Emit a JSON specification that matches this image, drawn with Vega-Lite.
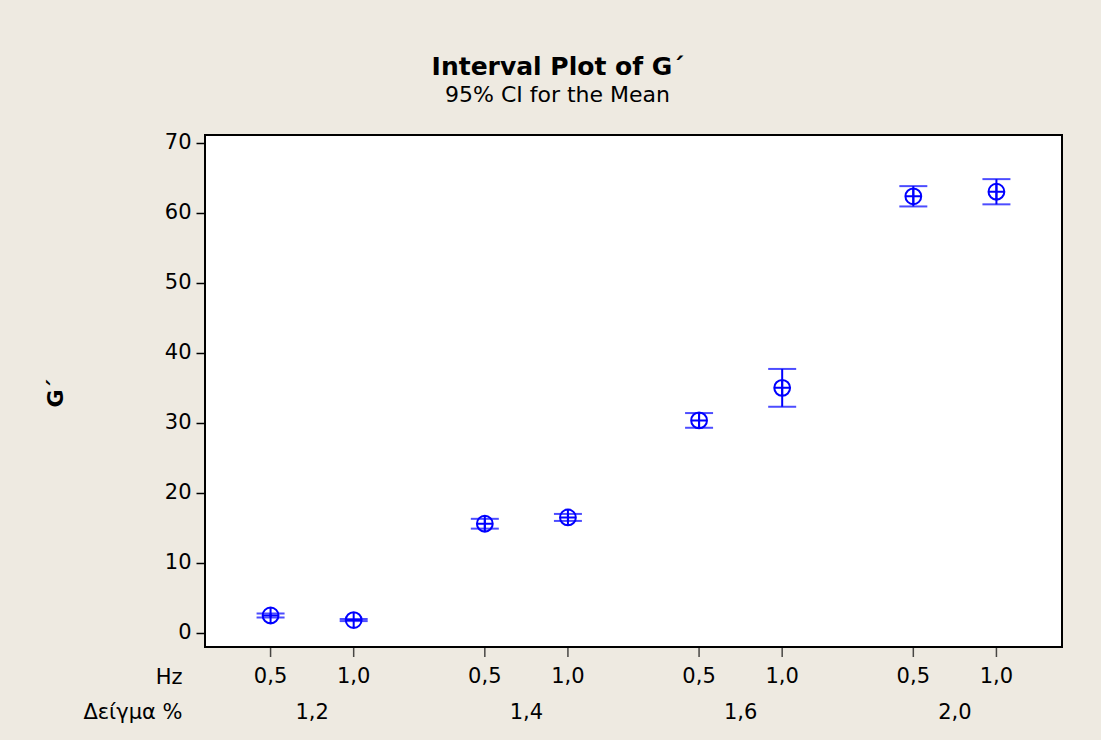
{
  "$schema": "https://vega.github.io/schema/vega-lite/v6.json",
  "autosize": {"type": "none"},
  "width": 857,
  "height": 512,
  "padding": {"left": 205, "top": 135, "right": 39, "bottom": 93},
  "background": "#EEEAE1",
  "config": {
    "view": {"fill": "white", "stroke": "black", "strokeWidth": 2},
    "font": "DejaVu Sans"
  },
  "title": {
    "text": "Interval Plot of G΄",
    "subtitle": "95% CI for the Mean",
    "fontSize": 25,
    "fontWeight": "bold",
    "subtitleFontSize": 22,
    "color": "black",
    "subtitleColor": "black",
    "anchor": "middle",
    "frame": "group",
    "dx": -76,
    "offset": 26,
    "subtitlePadding": 5,
    "font": "DejaVu Sans",
    "subtitleFont": "DejaVu Sans"
  },
  "data": {
    "values": [
      {"d": "1,2", "hz": "0,5", "mean": 2.5, "lo": 2.2, "hi": 2.8},
      {"d": "1,2", "hz": "1,0", "mean": 1.85, "lo": 1.7, "hi": 2.0},
      {"d": "1,4", "hz": "0,5", "mean": 15.6, "lo": 14.9, "hi": 16.3},
      {"d": "1,4", "hz": "1,0", "mean": 16.5, "lo": 16.0, "hi": 17.0},
      {"d": "1,6", "hz": "0,5", "mean": 30.35, "lo": 29.3, "hi": 31.4},
      {"d": "1,6", "hz": "1,0", "mean": 35.0, "lo": 32.3, "hi": 37.7},
      {"d": "2,0", "hz": "0,5", "mean": 62.35, "lo": 60.9, "hi": 63.8},
      {"d": "2,0", "hz": "1,0", "mean": 63.0, "lo": 61.2, "hi": 64.8}
    ]
  },
  "encoding": {
    "x": {
      "field": "d",
      "type": "nominal",
      "scale": {"paddingInner": 0, "paddingOuter": 0},
      "axis": {
        "title": ["Hz", "Δείγμα %"],
        "titleAlign": "right",
        "titleAnchor": "start",
        "titleX": -23,
        "titleY": 36,
        "titleBaseline": "alphabetic",
        "titleLineHeight": 35,
        "titleFontSize": 21,
        "titleFontWeight": "normal",
        "titleColor": "black",
        "labelAngle": 0,
        "labelFontSize": 21,
        "labelColor": "black",
        "labelBaseline": "alphabetic",
        "labelPadding": 71,
        "ticks": false,
        "tickSize": 0,
        "domain": false,
        "grid": false
      }
    },
    "xOffset": {
      "field": "hz",
      "type": "nominal",
      "scale": {"paddingInner": 0, "paddingOuter": 0.289}
    }
  },
  "layer": [
    {
      "mark": {"type": "rule", "color": "#0000FF", "strokeWidth": 2},
      "encoding": {
        "y": {
          "field": "lo",
          "type": "quantitative",
          "title": "G΄",
          "scale": {"domain": [-2, 71.1], "nice": false, "zero": false},
          "axis": {
            "values": [0, 10, 20, 30, 40, 50, 60, 70],
            "labelFontSize": 21,
            "labelColor": "black",
            "labelPadding": 5,
            "tickSize": 9,
            "tickColor": "black",
            "tickWidth": 1.5,
            "domain": false,
            "grid": false,
            "titleFontSize": 22,
            "titleFontWeight": "bold",
            "titleColor": "black",
            "titleX": -150,
            "titleY": 258,
            "titleAngle": -90,
            "titleAlign": "center",
            "titleBaseline": "middle"
          }
        },
        "y2": {"field": "hi"}
      }
    },
    {
      "mark": {"type": "tick", "orient": "horizontal", "color": "#0000FF", "size": 28, "thickness": 2},
      "encoding": {
        "y": {"field": "lo", "type": "quantitative", "title": "G΄"}
      }
    },
    {
      "mark": {"type": "tick", "orient": "horizontal", "color": "#0000FF", "size": 28, "thickness": 2},
      "encoding": {
        "y": {"field": "hi", "type": "quantitative", "title": "G΄"}
      }
    },
    {
      "mark": {
        "type": "point",
        "shape": "M-1,0A1,1,0,1,1,1,0A1,1,0,1,1,-1,0ZM-1,0L1,0M0,-1L0,1",
        "filled": false,
        "stroke": "#0000FF",
        "strokeWidth": 2,
        "size": 250,
        "opacity": 1
      },
      "encoding": {
        "y": {"field": "mean", "type": "quantitative", "title": "G΄"}
      }
    },
    {
      "mark": {"type": "tick", "orient": "vertical", "color": "black", "size": 9, "thickness": 1.5, "yOffset": 5.5},
      "encoding": {
        "y": {"value": "height"}
      }
    },
    {
      "mark": {"type": "text", "fontSize": 21, "color": "black", "align": "center", "baseline": "alphabetic", "dy": 36},
      "encoding": {
        "y": {"value": "height"},
        "text": {"field": "hz"}
      }
    }
  ]
}
